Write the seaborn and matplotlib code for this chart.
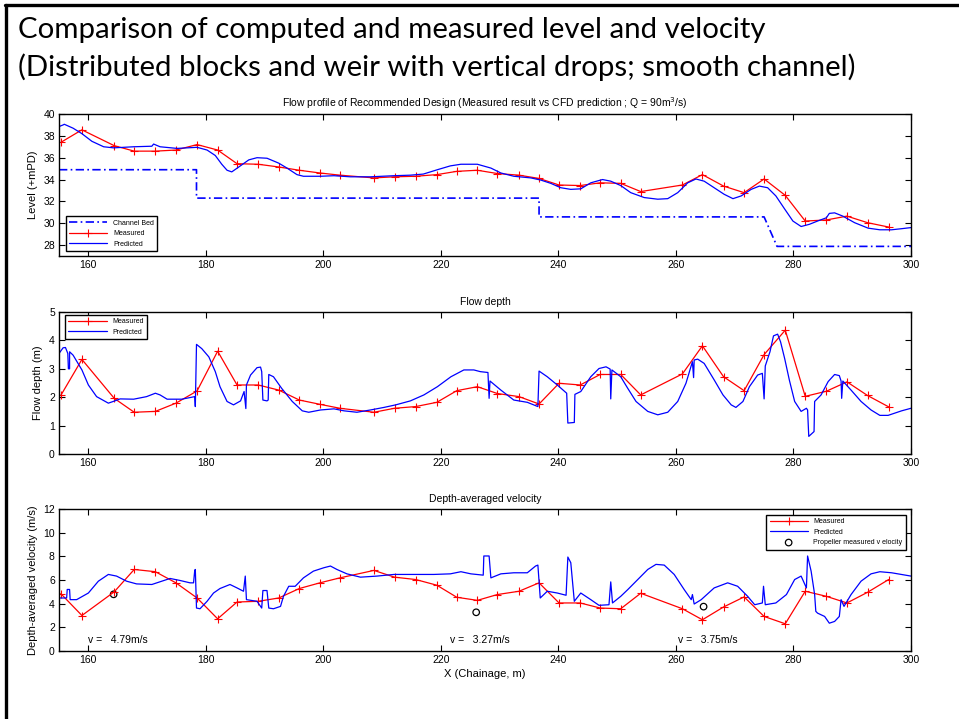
import matplotlib
matplotlib.use("Agg")
import matplotlib.pyplot as plt
from matplotlib.lines import Line2D
import seaborn as sns

# ---------------- data ----------------
meas_x = [155.3, 158.9, 164.4, 167.8, 171.4, 174.9, 178.5, 182.0, 185.3, 188.9,
          192.4, 195.9, 199.4, 202.8, 208.6, 212.1, 215.7, 219.3, 222.7, 226.2,
          229.6, 233.3, 236.7, 240.1, 243.7, 247.1, 250.6, 254.0, 261.1, 264.5,
          268.1, 271.6, 275.0, 278.6, 282.0, 285.6, 289.1, 292.6, 296.2]
meas_level = [37.4, 38.55, 37.1, 36.6, 36.6, 36.7, 37.2, 36.7, 35.45, 35.4,
              35.15, 34.85, 34.6, 34.4, 34.15, 34.25, 34.3, 34.45, 34.75, 34.85,
              34.55, 34.4, 34.1, 33.5, 33.45, 33.7, 33.65, 32.9, 33.5, 34.45,
              33.4, 32.8, 34.05, 32.55, 30.2, 30.3, 30.65, 30.05, 29.65]
meas_depth = [2.06, 3.33, 1.96, 1.47, 1.5, 1.79, 2.22, 3.62, 2.43, 2.43,
              2.25, 1.9, 1.75, 1.61, 1.47, 1.61, 1.67, 1.82, 2.23, 2.37,
              2.13, 2.02, 1.76, 2.49, 2.43, 2.8, 2.8, 2.08, 2.82, 3.81,
              2.72, 2.23, 3.5, 4.36, 2.03, 2.21, 2.54, 2.06, 1.66]
meas_vel = [4.85, 3.0, 5.0, 6.89, 6.7, 5.76, 4.48, 2.72, 4.14, 4.2,
            4.48, 5.28, 5.76, 6.18, 6.81, 6.24, 6.04, 5.56, 4.54, 4.28,
            4.77, 5.05, 5.76, 4.06, 4.06, 3.63, 3.57, 4.88, 3.57, 2.64,
            3.72, 4.57, 2.92, 2.3, 5.05, 4.62, 4.06, 4.96, 6.04]

bed_x = [155, 178.4, 178.4, 236.7, 236.7, 275.0, 277.2, 300]
bed_y = [34.9, 34.9, 32.3, 32.3, 30.58, 30.58, 27.88, 27.88]

pred_level_x = [155.0, 155.7, 155.9, 157.4, 158.9, 160.6, 162.6, 164.3, 167.7, 170.8,
                171.1, 172.2, 175.1, 178.5, 180.2, 181.6, 182.7, 183.6, 184.4, 185.6,
                187.3, 188.7, 190.4, 192.4, 193.8, 195.5, 196.6, 199.5, 201.8, 204.6,
                208.0, 212.0, 214.8, 217.0, 219.4, 221.6, 223.4, 226.2, 228.5, 230.2,
                232.4, 235.3, 237.0, 238.7, 240.4, 242.1, 243.8, 245.5, 247.5, 248.9,
                250.6, 252.3, 254.6, 256.9, 258.6, 260.3, 262.0, 263.4, 264.8, 266.5,
                268.2, 269.7, 271.1, 272.8, 274.2, 275.6, 277.0, 278.5, 279.9, 281.3,
                282.7, 284.1, 285.6, 286.1, 287.0, 288.4, 290.4, 292.7, 294.7, 296.7,
                298.4, 300.0]
pred_level_y = [38.85, 39.0, 39.06, 38.7, 38.2, 37.5, 37.0, 36.9, 37.0, 37.05,
                37.25, 37.0, 36.85, 36.95, 36.7, 36.2, 35.4, 34.85, 34.7, 35.15,
                35.8, 36.0, 35.95, 35.5, 35.05, 34.45, 34.3, 34.3, 34.35, 34.25,
                34.25, 34.35, 34.4, 34.5, 34.9, 35.25, 35.4, 35.4, 35.05, 34.6,
                34.3, 34.15, 33.95, 33.65, 33.25, 33.1, 33.15, 33.7, 34.0, 33.85,
                33.45, 32.8, 32.35, 32.2, 32.25, 32.8, 33.7, 34.05, 33.85, 33.25,
                32.65, 32.25, 32.5, 33.1, 33.4, 33.25, 32.5, 31.3, 30.2, 29.7,
                29.9, 30.2, 30.5, 30.9, 30.95, 30.65, 30.05, 29.55, 29.4, 29.4,
                29.5, 29.6]

pred_depth_x = [155.0, 155.7, 156.1, 156.5, 156.6, 156.8, 156.8, 157.4, 158.9, 160.0,
                161.4, 163.4, 164.5, 165.4, 167.7, 169.9, 171.4, 172.2, 173.4, 175.9,
                177.6, 178.1, 178.2, 178.4, 179.3, 180.5, 181.6, 182.4, 183.6, 184.7,
                185.9, 186.5, 186.8, 186.9, 187.6, 188.7, 189.3, 189.5, 189.7, 190.4,
                190.6, 190.7, 191.5, 192.9, 194.7, 196.4, 197.5, 199.5, 201.8, 203.5,
                205.7, 208.0, 210.3, 212.3, 214.8, 217.1, 219.4, 221.7, 223.9, 225.6,
                226.7, 228.0, 228.2, 228.35, 230.2, 232.4, 234.7, 236.5, 236.7, 238.1,
                239.8, 241.4, 241.6, 242.7, 242.8, 243.8, 245.5, 246.9, 248.1, 248.8,
                248.9, 249.1, 250.6, 251.8, 253.2, 255.2, 256.9, 258.6, 260.3, 261.7,
                262.8, 263.0, 263.1, 263.7, 264.8, 266.5, 268.0, 269.4, 270.2, 271.4,
                272.5, 273.9, 274.7, 275.0, 275.2, 276.0, 276.6, 277.3, 277.8, 278.5,
                279.3, 280.2, 281.3, 282.2, 282.4, 282.6, 283.5, 283.6, 284.7, 285.9,
                287.0, 287.8, 288.1, 288.2, 288.4, 289.8, 291.5, 293.2, 294.7, 296.1,
                298.4, 300.0]
pred_depth_y = [3.54, 3.74, 3.75, 3.54, 3.0, 3.0, 3.6, 3.48, 2.96, 2.43,
                2.02, 1.79, 1.87, 1.94, 1.93, 2.02, 2.14, 2.08, 1.93, 1.93,
                2.0, 2.02, 1.67, 3.86, 3.71, 3.42, 2.9, 2.37, 1.85, 1.73,
                1.87, 2.2, 1.6, 2.43, 2.78, 3.04, 3.06, 2.9, 1.9, 1.87,
                1.9, 2.8, 2.72, 2.31, 1.85, 1.52, 1.47, 1.55, 1.59, 1.52,
                1.47, 1.55, 1.64, 1.73, 1.87, 2.08, 2.37, 2.72, 2.96, 2.96,
                2.9, 2.87, 1.96, 2.57, 2.25, 1.9, 1.82, 1.67, 2.92, 2.72,
                2.43, 2.14, 1.09, 1.11, 2.1, 2.2, 2.72, 3.01, 3.07, 2.99,
                1.94, 2.96, 2.72, 2.31, 1.85, 1.5, 1.38, 1.47, 1.85, 2.49,
                3.25, 2.69, 3.31, 3.34, 3.19, 2.61, 2.08, 1.73, 1.64, 1.85,
                2.37, 2.78, 2.84, 1.94, 3.1, 3.6, 4.16, 4.22, 3.95, 3.36,
                2.6, 1.85, 1.5, 1.61, 1.55, 0.62, 0.79, 1.85, 2.08, 2.55,
                2.8, 2.76, 2.57, 1.96, 2.57, 2.25, 1.85, 1.55, 1.36, 1.36,
                1.52, 1.61]

pred_vel_x = [155.0, 156.3, 156.4, 156.8, 156.9, 158.0, 160.0, 161.7, 163.4, 164.8,
              166.5, 168.2, 170.8, 172.5, 173.9, 175.6, 177.3, 177.9, 178.1, 178.2,
              178.4, 179.0, 180.2, 181.3, 182.4, 184.1, 185.3, 186.4, 186.7, 186.9,
              188.7, 189.5, 189.7, 190.4, 190.7, 191.5, 192.7, 193.2, 194.1, 195.2,
              196.6, 198.3, 200.1, 201.2, 202.3, 204.0, 206.3, 209.1, 212.0, 215.4,
              218.8, 221.6, 223.4, 225.1, 227.2, 227.3, 228.2, 228.5, 230.2, 232.4,
              234.7, 236.1, 236.5, 236.9, 238.1, 239.8, 241.3, 241.6, 242.1, 242.7,
              243.8, 245.5, 246.9, 248.6, 248.9, 249.2, 250.6, 251.8, 253.5, 255.2,
              256.6, 258.0, 259.7, 261.4, 262.6, 262.8, 263.1, 264.3, 266.5, 268.8,
              270.5, 272.2, 273.4, 274.7, 274.9, 275.2, 277.0, 278.8, 280.2, 281.3,
              282.2, 282.4, 283.0, 283.6, 283.8, 284.1, 285.3, 286.1, 287.0, 287.8,
              288.1, 288.6, 289.8, 291.5, 293.2, 294.7, 296.7, 300.0]
pred_vel_y = [4.48, 4.48, 5.2, 5.2, 4.34, 4.34, 4.9, 5.9, 6.47, 6.33,
              5.9, 5.67, 5.62, 5.9, 6.13, 5.96, 5.76, 5.76, 6.81, 6.89,
              3.63, 3.57, 4.2, 4.9, 5.28, 5.62, 5.33, 5.05, 6.33, 4.34,
              4.2, 3.63, 5.11, 5.11, 3.63, 3.57, 3.77, 4.62, 5.47, 5.47,
              6.18, 6.75, 7.04, 7.18, 6.89, 6.52, 6.24, 6.33, 6.47, 6.47,
              6.47, 6.52, 6.7, 6.52, 6.41, 8.03, 8.03, 6.18, 6.52, 6.61,
              6.61, 7.18, 7.26, 4.48, 5.05, 4.9, 4.71, 7.94, 7.46, 4.2,
              4.9, 4.34, 3.86, 3.91, 5.84, 4.06, 4.62, 5.19, 6.04, 6.89,
              7.32, 7.26, 6.47, 5.19, 4.34, 4.77, 3.97, 4.34, 5.33, 5.76,
              5.47, 4.62, 3.91, 4.06, 5.47, 3.91, 4.06, 4.77, 6.04, 6.33,
              5.33, 8.03, 6.75, 4.77, 3.35, 3.2, 2.92, 2.35, 2.5, 2.92,
              4.34, 3.77, 4.77, 5.9, 6.52, 6.7, 6.61, 6.33]

prop_x = [164.3, 226.0, 264.7]
prop_v = [4.79, 3.27, 3.75]
prop_label_x = [160.0, 221.5, 260.3]

x_ticks = [160, 180, 200, 220, 240, 260, 280, 300]

# ---------------- style ----------------
sns.set_theme(style="white")
plt.rcParams["font.family"] = ["Liberation Sans", "DejaVu Sans"]
plt.rcParams["text.color"] = "black"
plt.rcParams["axes.labelcolor"] = "black"
plt.rcParams["xtick.color"] = "black"
plt.rcParams["ytick.color"] = "black"

RED = (1, 0, 0)
BLUE = (0, 0, 1)
FS = 7.5

fig = plt.figure(figsize=(9.59, 7.19), dpi=100)

# slide frame lines (top and left)
fig.add_artist(Line2D([5 / 959, 1.0], [1 - 4.5 / 719, 1 - 4.5 / 719],
                      transform=fig.transFigure, color="black", lw=2.4))
fig.add_artist(Line2D([6 / 959, 6 / 959], [0.0, 1 - 4.5 / 719],
                      transform=fig.transFigure, color="black", lw=2.4))

fig.text(18 / 959, 1 - 38 / 719, "Comparison of computed and measured level and velocity",
         fontsize=21.2, family=["Lato", "DejaVu Sans"], va="baseline", ha="left", color="black")
fig.text(18 / 959, 1 - 76 / 719, "(Distributed blocks and weir with vertical drops; smooth channel)",
         fontsize=21.2, family=["Lato", "DejaVu Sans"], va="baseline", ha="left", color="black")

L, W, H = 59 / 959, 852 / 959, 142 / 719
ax1 = fig.add_axes([L, 1 - 256 / 719, W, H])
ax2 = fig.add_axes([L, 1 - 454 / 719, W, H])
ax3 = fig.add_axes([L, 1 - 651 / 719, W, H])

meas_kw = dict(color=RED, lw=0.9, marker="+", markersize=6, markeredgewidth=0.8,
               markeredgecolor=RED, sort=False, estimator=None)
pred_kw = dict(color=BLUE, lw=0.9, sort=False, estimator=None)

# Panel 1
sns.lineplot(x=bed_x, y=bed_y, ax=ax1, color=BLUE, lw=1.2, linestyle=(0, (5, 2, 1, 2)),
             sort=False, estimator=None, label="Channel Bed")
sns.lineplot(x=meas_x, y=meas_level, ax=ax1, label="Measured", **meas_kw)
sns.lineplot(x=pred_level_x, y=pred_level_y, ax=ax1, label="Predicted", **pred_kw)
ax1.set_ylim(27, 40)
ax1.set_yticks(range(28, 41, 2))
ax1.set_ylabel("Level (+mPD)", fontsize=FS + 0.5)
ax1.set_title("Flow profile of Recommended Design (Measured result vs CFD prediction ; Q = 90m$^3$/s)",
              fontsize=FS, pad=5)

# Panel 2
sns.lineplot(x=meas_x, y=meas_depth, ax=ax2, label="Measured", **meas_kw)
sns.lineplot(x=pred_depth_x, y=pred_depth_y, ax=ax2, label="Predicted", **pred_kw)
ax2.set_ylim(0, 5)
ax2.set_yticks(range(0, 6))
ax2.set_ylabel("Flow depth (m)", fontsize=FS + 0.5)
ax2.set_title("Flow depth", fontsize=FS, pad=5)

# Panel 3
sns.lineplot(x=meas_x, y=meas_vel, ax=ax3, label="Measured", **meas_kw)
sns.lineplot(x=pred_vel_x, y=pred_vel_y, ax=ax3, label="Predicted", **pred_kw)
sns.scatterplot(x=prop_x, y=prop_v, ax=ax3, marker="o", s=22, facecolor="none",
                edgecolor="black", linewidth=0.9, label="Propeller measured v elocity")
for lx, v in zip(prop_label_x, prop_v):
    ax3.text(lx, 0.95, f"v =   {v:.2f}m/s", fontsize=FS, va="center", ha="left")
ax3.set_ylim(0, 12)
ax3.set_yticks(range(0, 13, 2))
ax3.set_ylabel("Depth-averaged velocity (m/s)", fontsize=FS + 0.5)
ax3.set_xlabel("X (Chainage, m)", fontsize=FS + 0.5, labelpad=3)
ax3.set_title("Depth-averaged velocity", fontsize=FS, pad=5)

for ax in (ax1, ax2, ax3):
    ax.set_xlim(155, 300)
    ax.set_xticks(x_ticks)
    ax.tick_params(direction="in", top=True, right=True, bottom=True, left=True,
                   length=4, width=0.8, labelsize=FS, colors="black", pad=3)
    for sp in ax.spines.values():
        sp.set_color("black")
        sp.set_linewidth(1.0)
        sp.set_visible(True)
    if ax is not ax3:
        ax.set_xlabel("")

leg_kw = dict(fontsize=5, frameon=True, fancybox=False, edgecolor="black",
              framealpha=1, handlelength=5.5, borderpad=0.5, labelspacing=0.5,
              handletextpad=0.8, borderaxespad=0)
lg1 = ax1.legend(loc="lower left", bbox_to_anchor=(0.008, 0.035), **leg_kw)
lg2 = ax2.legend(loc="upper left", bbox_to_anchor=(0.007, 0.979), **leg_kw)
lg3 = ax3.legend(loc="upper right", bbox_to_anchor=(0.994, 0.958), **leg_kw)
for lg in (lg1, lg2, lg3):
    lg.get_frame().set_linewidth(1.0)

fig.savefig("out.png", dpi=100)
